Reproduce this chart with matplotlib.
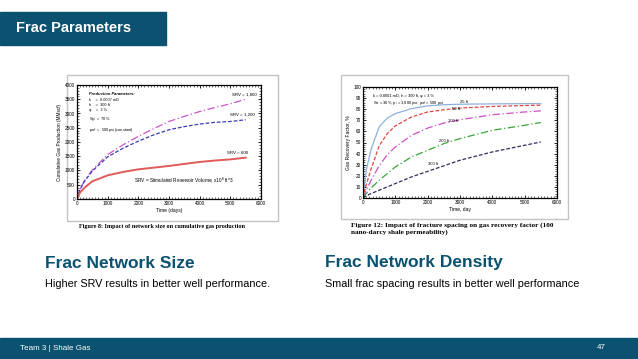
import matplotlib
matplotlib.use('Agg')
import matplotlib.pyplot as plt
from matplotlib.patches import Rectangle
from matplotlib.ticker import MultipleLocator

plt.rcParams['font.family'] = ['Liberation Sans', 'DejaVu Sans']

# Datos: producción acumulada vs tiempo (figura izquierda)
time_left = [0, 100, 250, 500, 1000, 1500, 2000, 2500, 3000, 3500, 4000, 4500, 5000, 5500]
srv_1800 = [0, 350, 650, 1020, 1560, 1900, 2200, 2470, 2720, 2900, 3070, 3210, 3340, 3500]
srv_1200 = [0, 340, 630, 980, 1480, 1780, 2030, 2250, 2430, 2540, 2630, 2690, 2720, 2780]
srv_600 = [0, 230, 400, 620, 830, 950, 1040, 1100, 1160, 1230, 1300, 1350, 1390, 1450]

# Datos: factor de recobro vs tiempo (figura derecha)
time_right = [0, 100, 250, 500, 750, 1000, 1500, 2000, 2500, 3000, 4000, 5000, 5500]
rf_25ft = [0, 25, 44, 64, 72, 76, 80.5, 83, 84, 84.5, 84.8, 85, 85]
rf_50ft = [0, 12, 26, 47, 58, 65, 73, 77.5, 79.5, 81, 82.5, 83.3, 83.6]
rf_100ft = [0, 7, 16, 29, 39, 46, 56.5, 63, 67.5, 70.5, 75, 77.5, 78.5]
rf_200ft = [0, 4, 9, 16, 22, 28, 37, 43, 49, 53.5, 61, 65.5, 68]
rf_300ft = [0, 2, 4, 7, 10, 13, 19, 24, 29, 34, 41.5, 47.5, 50.5]

teal = '#0b5170'
W, H = 638, 359

fig = plt.figure(figsize=(W / 100, H / 100), dpi=100)
fig.patch.set_facecolor('white')

# Capa de fondo en coordenadas de píxel
bg = fig.add_axes([0, 0, 1, 1])
bg.set_xlim(0, W)
bg.set_ylim(H, 0)
bg.axis('off')

# Barra de título y pie de página
bg.add_patch(Rectangle((0, 12), 166, 33, color=teal))
bg.text(16, 28.5, 'Frac Parameters', color='white', fontsize=10.5, fontweight='bold', va='center')
bg.add_patch(Rectangle((0, 338), W, 21, color=teal))
bg.text(20, 348.5, 'Team 3 | Shale Gas', color='white', fontsize=5.8, va='center')
bg.text(597, 347.5, '47', color='white', fontsize=5.8, va='center')

# Marcos grises de las imágenes
bg.add_patch(Rectangle((67, 75), 211, 146, fill=False, ec='#c4c4c4', lw=1))
bg.add_patch(Rectangle((341, 75), 227, 144, fill=False, ec='#c4c4c4', lw=1))

serif = ['Liberation Serif', 'DejaVu Serif']
bg.text(79, 226.5, 'Figure 8: Impact of network size on cumulative gas production',
        family=serif, fontweight='bold', fontsize=4.4, va='center')
bg.text(351, 225, 'Figure 12: Impact of fracture spacing on gas recovery factor (100',
        family=serif, fontweight='bold', fontsize=5.2, va='center')
bg.text(351, 232.5, 'nano-darcy shale permeability)',
        family=serif, fontweight='bold', fontsize=5.2, va='center')

# Encabezados y descripciones
bg.text(45, 263, 'Frac Network Size', color=teal, fontsize=12.5, fontweight='bold', va='center')
bg.text(45, 284, 'Higher SRV results in better well performance.', fontsize=7.8, va='center')
bg.text(325, 263, 'Frac Network Density', color=teal, fontsize=12.5, fontweight='bold', va='center')
bg.text(325, 284, 'Small frac spacing results in better well performance', fontsize=7.8, va='center')


def style_axes(ax, xminor, yminor):
  ax.xaxis.set_minor_locator(MultipleLocator(xminor))
  ax.yaxis.set_minor_locator(MultipleLocator(yminor))
  ax.tick_params(which='both', direction='in', top=True, right=True, labelsize=3.4, pad=1.5)
  ax.tick_params(which='major', length=2.2, width=0.6)
  ax.tick_params(which='minor', length=1.1, width=0.4)
  for s in ax.spines.values():
    s.set_linewidth(0.9)


# Figura izquierda
ax1 = fig.add_axes([77 / W, 1 - 199 / H, 184 / W, 114 / H])
ax1.plot(time_left, srv_1800, color='#cc55cc', lw=0.9, ls=(0, (6, 2, 1, 2)))
ax1.plot(time_left, srv_1200, color='#3a3ab8', lw=0.9, ls=(0, (3, 1.5)))
ax1.plot(time_left, srv_600, color='#e05a5a', lw=1.4)
ax1.set_xlim(0, 6000)
ax1.set_ylim(0, 4000)
ax1.xaxis.set_major_locator(MultipleLocator(1000))
ax1.yaxis.set_major_locator(MultipleLocator(500))
style_axes(ax1, 100, 100)
ax1.set_xlabel('Time (days)', fontsize=3.6, labelpad=1.5)
ax1.set_ylabel('Cumulative Gas Production (MMscf)', fontsize=3.4, labelpad=1.5)
ax1.text(5050, 3640, 'SRV = 1,800', fontsize=3.2)
ax1.text(5000, 2930, 'SRV = 1,200', fontsize=3.2)
ax1.text(4880, 1590, 'SRV = 600', fontsize=3.2)
ax1.text(1850, 600, 'SRV = Stimulated Reservoir Volume, x10$^6$ ft^3', fontsize=3.4)
ax1.text(380, 3690, 'Production Parameters:', fontsize=2.9, va='center', fontweight='bold', style='italic')
params = ['k    =  0.0007 mD', 'h    =  300 ft', '\u03c6    =  3 %',
          'S$_{gi}$  =  70%', 'p$_{wf}$  =  500 psi (constant)']
ax1.text(380, 3560, '\n'.join(params), fontsize=2.8, va='top', linespacing=1.45)

# Figura derecha
ax2 = fig.add_axes([363 / W, 1 - 198 / H, 194 / W, 111 / H])
ax2.plot(time_right, rf_25ft, color='#8fb0dc', lw=0.9)
ax2.plot(time_right, rf_50ft, color='#e04545', lw=0.9, ls=(0, (3, 1.5)))
ax2.plot(time_right, rf_100ft, color='#d050c8', lw=0.9, ls=(0, (6, 2, 1, 2)))
ax2.plot(time_right, rf_200ft, color='#3aa53a', lw=0.9, ls=(0, (6, 2, 1, 2)))
ax2.plot(time_right, rf_300ft, color='#2f2f60', lw=0.9, ls=(0, (3, 1.5)))
ax2.set_xlim(0, 6000)
ax2.set_ylim(0, 100)
ax2.xaxis.set_major_locator(MultipleLocator(1000))
ax2.yaxis.set_major_locator(MultipleLocator(10))
style_axes(ax2, 100, 2)
ax2.set_xlabel('Time, day', fontsize=3.6, labelpad=1.5)
ax2.set_ylabel('Gas Recovery Factor, %', fontsize=3.6, labelpad=1.5)
ax2.text(3000, 86.5, '25 ft', fontsize=3.0, va='center')
ax2.text(2750, 80.5, '50 ft', fontsize=3.0, va='center')
ax2.text(2620, 69, '100 ft', fontsize=3.0, va='center')
ax2.text(2350, 51, '200 ft', fontsize=3.0, va='center')
ax2.text(2000, 30.5, '300 ft', fontsize=3.0, va='center')
ax2.text(320, 91.5, 'k = 0.0001 mD, h = 300 ft, \u03c6 = 3 %', fontsize=2.9, va='center')
ax2.text(320, 85.5, 'S$_w$ = 30%, p$_i$ = 3,000 psi, p$_{wf}$ = 500 psi', fontsize=2.9, va='center')

plt.savefig('out.png', dpi=100)
